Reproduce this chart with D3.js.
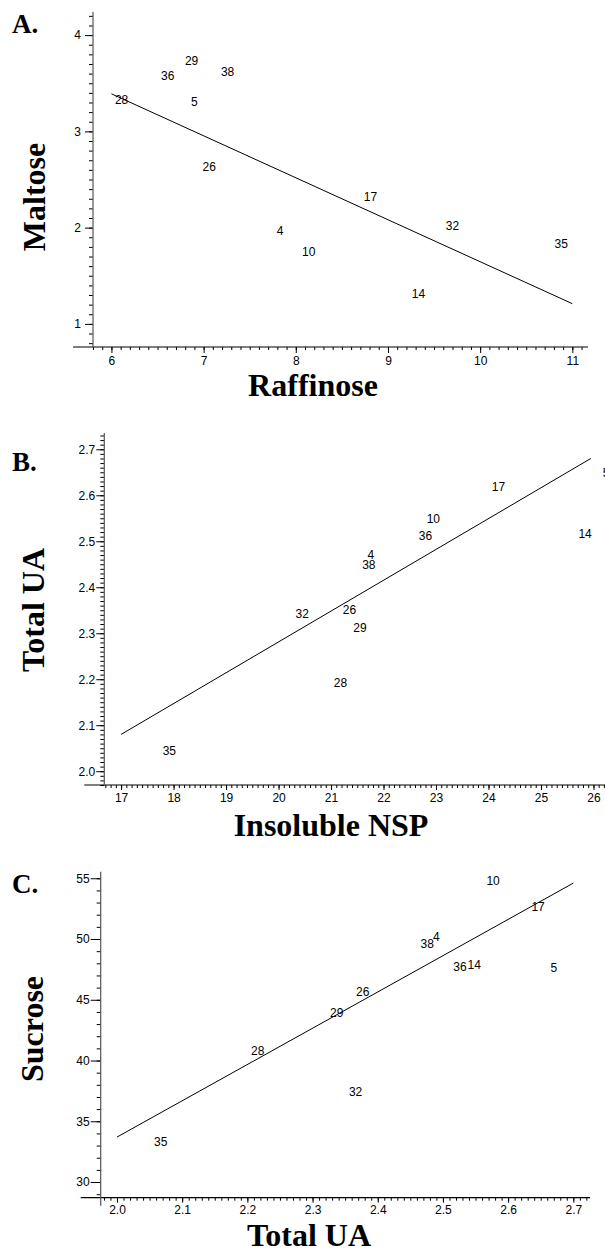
<!DOCTYPE html>
<html lang="en">
<head>
    <meta charset="UTF-8">
    <title>Scatter panels</title>
    <style>
        body { margin: 0; background: white; }
        .tick text { font-family: "Liberation Sans", Arial, sans-serif; font-size: 12px; fill: black; }
        .tick line { stroke: black; }
        .pt { font-family: "Liberation Sans", Arial, sans-serif; font-size: 12px; }
        .ttl { font-family: "Liberation Serif", "Times New Roman", serif; font-weight: bold; font-size: 32px; }
        .letter { font-family: "Liberation Serif", "Times New Roman", serif; font-weight: bold; font-size: 27px; }
    </style>
    <script src="https://d3js.org/d3.v7.min.js"></script>
</head>
<body>
<script>
// sample ids (used as the point markers)
const ids = ["4", "5", "10", "14", "17", "26", "28", "29", "32", "35", "36", "38"]

// panel A: raffinose vs maltose
const raffinose = [7.83, 6.90, 8.14, 9.33, 8.81, 7.06, 6.11, 6.87, 9.70, 10.88, 6.61, 7.26]
const maltose   = [1.96, 3.31, 1.75, 1.31, 2.32, 2.63, 3.33, 3.73, 2.02, 1.83, 3.57, 3.62]
const fitA = {x: [6, 11], y: [3.39, 1.21]}

// panel B: insoluble NSP vs total UA
const insolNSP = [21.76, 26.24, 22.95, 25.84, 24.19, 21.35, 21.18, 21.55, 20.45, 17.92, 22.80, 21.72]
const totalUA_B = [2.470, 2.648, 2.548, 2.516, 2.617, 2.351, 2.191, 2.311, 2.341, 2.045, 2.512, 2.449]
const fitB = {x: [17, 25.95], y: [2.08, 2.68]}

// panel C: total UA vs sucrose
const totalUA_C = [2.490, 2.670, 2.577, 2.548, 2.646, 2.377, 2.216, 2.337, 2.366, 2.067, 2.526, 2.476]
const sucrose   = [50.14, 47.64, 54.80, 47.86, 52.61, 45.62, 40.81, 43.89, 37.44, 33.32, 47.72, 49.59]
const fitC = {x: [2.0, 2.7], y: [33.7, 54.6]}

// tick values
const ticksA_x = [6, 7, 8, 9, 10, 11]
const ticksA_y = [1, 2, 3, 4]
const ticksB_x = [17, 18, 19, 20, 21, 22, 23, 24, 25, 26]
const ticksB_y = [2.0, 2.1, 2.2, 2.3, 2.4, 2.5, 2.6, 2.7]
const ticksC_x = [2.0, 2.1, 2.2, 2.3, 2.4, 2.5, 2.6, 2.7]
const ticksC_y = [30, 35, 40, 45, 50, 55]

var svg = d3.select("body").append("svg")
    .attr("width", 605)
    .attr("height", 1253)

// minor tick values between lo and hi at given step
function minors(lo, hi, step) {
    var out = []
    var start = Math.ceil(lo / step - 1e-9)
    for (var k = start; k * step <= hi + 1e-9; k++) out.push(+(k * step).toFixed(4))
    return out
}

function drawPanel(cfg) {
    var x = d3.scaleLinear().domain(cfg.xdom).range(cfg.xr)
    var y = d3.scaleLinear().domain(cfg.ydom).range(cfg.yr)
    var g = svg.append("g")

    // minor ticks first
    g.append("g")
        .attr("transform", "translate(0," + cfg.yr[0] + ")")
        .call(d3.axisBottom(x).tickValues(minors(cfg.xdom[0], cfg.xdom[1], cfg.xminor)).tickSize(cfg.xminorLen).tickFormat(""))
        .call(a => a.select(".domain").remove())
    g.append("g")
        .attr("transform", "translate(" + cfg.xr[0] + ",0)")
        .call(d3.axisLeft(y).tickValues(minors(cfg.ydom[0], cfg.ydom[1], cfg.yminor)).tickSize(cfg.yminorLen).tickFormat(""))
        .call(a => a.select(".domain").remove())

    // major ticks
    g.append("g")
        .attr("transform", "translate(0," + cfg.yr[0] + ")")
        .call(d3.axisBottom(x).tickValues(cfg.xticks).tickSize(cfg.xTick).tickPadding(cfg.xPad).tickFormat(cfg.xfmt))
        .call(a => a.select(".domain").remove())
    g.append("g")
        .attr("transform", "translate(" + cfg.xr[0] + ",0)")
        .call(d3.axisLeft(y).tickValues(cfg.yticks).tickSize(cfg.yTick).tickPadding(cfg.yPad).tickFormat(cfg.yfmt))
        .call(a => a.select(".domain").remove())

    // axis lines (x axis runs a bit left past the y axis)
    g.append("line")
        .attr("x1", cfg.xr[0] - 20).attr("x2", cfg.xr[1])
        .attr("y1", cfg.yr[0]).attr("y2", cfg.yr[0])
        .attr("stroke", "black").attr("stroke-width", 1.2)
    g.append("line")
        .attr("x1", cfg.xr[0]).attr("x2", cfg.xr[0])
        .attr("y1", cfg.yr[1]).attr("y2", cfg.yr[0] + cfg.yExtra)
        .attr("stroke", "#555").attr("stroke-width", 1.2)

    // regression line
    g.append("line")
        .attr("x1", x(cfg.fit.x[0])).attr("y1", y(cfg.fit.y[0]))
        .attr("x2", x(cfg.fit.x[1])).attr("y2", y(cfg.fit.y[1]))
        .attr("stroke", "black").attr("stroke-width", 1)

    // labels as markers
    g.selectAll(".pt")
        .data(ids)
        .enter()
        .append("text")
        .attr("class", "pt")
        .attr("x", (d, i) => x(cfg.xs[i]))
        .attr("y", (d, i) => y(cfg.ys[i]))
        .attr("text-anchor", "middle")
        .attr("dominant-baseline", "central")
        .text(d => d)

    // titles
    g.append("text").attr("class", "letter")
        .attr("x", 12).attr("y", cfg.letterY).text(cfg.letter)
    g.append("text").attr("class", "ttl")
        .attr("x", cfg.xTitle[0]).attr("y", cfg.xTitle[1])
        .attr("text-anchor", "middle").text(cfg.xlabel)
    g.append("text").attr("class", "ttl")
        .attr("transform", "translate(" + cfg.yTitle[0] + "," + cfg.yTitle[1] + ") rotate(-90)")
        .attr("text-anchor", "middle").text(cfg.ylabel)
}

drawPanel({
    letter: "A.", letterY: 33,
    xs: raffinose, ys: maltose, fit: fitA,
    xdom: [5.8, 11.17], xr: [93, 588],
    ydom: [0.76, 4.24], yr: [347, 12],
    xticks: ticksA_x, yticks: ticksA_y, xfmt: d3.format("d"), yfmt: d3.format("d"),
    xminor: 0.1, yminor: 0.1, xminorLen: 3, yminorLen: 4,
    xTick: 6, xPad: 3, yTick: 8, yPad: 4, yExtra: 0,
    xlabel: "Raffinose", xTitle: [313, 396],
    ylabel: "Maltose", yTitle: [45, 197]
})

drawPanel({
    letter: "B.", letterY: 471,
    xs: insolNSP, ys: totalUA_B, fit: fitB,
    xdom: [16.68, 26.22], xr: [104.3, 605],
    ydom: [1.970, 2.7354], yr: [785, 433],
    xticks: ticksB_x, yticks: ticksB_y, xfmt: d3.format("d"), yfmt: d3.format(".1f"),
    xminor: 0.1, yminor: 0.01, xminorLen: 3, yminorLen: 4,
    xTick: 5, xPad: 3, yTick: 8, yPad: 1, yExtra: 0,
    xlabel: "Insoluble NSP", xTitle: [331, 836],
    ylabel: "Total UA", yTitle: [43.5, 610]
})

drawPanel({
    letter: "C.", letterY: 893,
    xs: totalUA_C, ys: sucrose, fit: fitC,
    xdom: [1.975, 2.7256], xr: [100.7, 590],
    ydom: [28.71, 55.54], yr: [1197.7, 871.7],
    xticks: ticksC_x, yticks: ticksC_y, xfmt: d3.format(".1f"), yfmt: d3.format("d"),
    xminor: 0.01, yminor: 1, xminorLen: 3, yminorLen: 4,
    xTick: 5, xPad: 3, yTick: 10, yPad: 1, yExtra: 8,
    xlabel: "Total UA", xTitle: [309, 1246],
    ylabel: "Sucrose", yTitle: [43, 1029]
})
</script>
</body>
</html>
